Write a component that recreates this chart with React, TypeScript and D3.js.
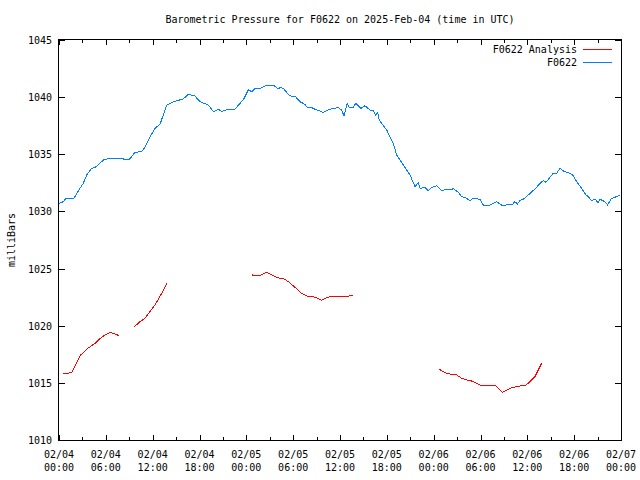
import React from "react";
import * as d3 from "d3";

// ---- data (hours since 2025-02-04 00:00 UTC) ----
const stationHours = [
  0, 0.55, 0.9, 1.83, 2.05, 2.47, 3.11, 3.55, 4.19, 4.61, 5.03, 5.68, 6.32, 7.81, 8.24, 8.88, 9.31, 9.74,
  10.59, 11.02, 11.44, 12.3, 12.94, 13.8, 14.64, 15.92, 16.56, 17.42, 18.06, 19.13, 19.77, 20.41, 20.84,
  21.69, 22.55, 23.19, 23.61, 24.25, 24.69, 25.11, 25.75, 26.61, 27.45, 28.09, 28.31, 28.73, 29.37, 29.81,
  30.23, 30.87, 31.51, 31.81, 32.37, 33.01, 33.86, 34.5, 35.14, 35.78, 36.22, 36.51, 36.93, 37.15, 37.7,
  38.01, 38.69, 39.2, 39.84, 40.26, 40.57, 40.83, 41.03, 41.98, 42.83, 43.26, 44.11, 44.97, 45.61, 46.03,
  46.25, 46.89, 47.31, 47.75, 48.39, 49.03, 49.58, 50.31, 50.51, 51.15, 51.59, 52.23, 52.65, 53.07, 53.93,
  54.35, 55.21, 56.07, 56.71, 57.14, 57.43, 58.0, 58.42, 58.72, 59.06, 59.7, 60.56, 60.98, 61.62, 62.05,
  62.39, 63.32, 63.76, 64.18, 64.53, 65.24, 65.81, 66.32, 66.96, 67.51, 67.81, 68.24, 68.66, 69.09, 69.31,
  69.95, 70.29, 70.71, 71.23, 71.87,
];
const stationValues = [
  1030.71, 1030.85, 1031.15, 1031.09, 1031.29, 1031.79, 1032.46, 1033.19, 1033.77, 1033.86, 1034.06, 1034.5,
  1034.61, 1034.67, 1034.59, 1034.5, 1034.79, 1035.17, 1035.23, 1035.61, 1036.25, 1037.27, 1037.62, 1039.31,
  1039.6, 1039.84, 1040.25, 1040.1, 1039.6, 1039.31, 1038.73, 1038.94, 1038.73, 1038.96, 1038.96, 1039.46,
  1039.75, 1040.63, 1040.48, 1040.77, 1040.77, 1041.06, 1041.06, 1040.71, 1040.83, 1040.77, 1040.25, 1040.04,
  1040.1, 1039.6, 1039.37, 1039.08, 1039.08, 1038.88, 1038.67, 1038.88, 1039.02, 1039.08, 1038.88, 1038.35,
  1039.46, 1039.11, 1039.11, 1039.46, 1039.02, 1039.25, 1038.88, 1038.81, 1038.44, 1038.67, 1038.0, 1037.13,
  1035.96, 1034.94, 1034.06, 1033.19, 1032.16, 1032.51, 1032.02, 1032.11, 1031.79, 1032.11, 1032.25, 1031.79,
  1031.94, 1031.88, 1032.02, 1031.67, 1031.29, 1031.15, 1030.94, 1031.15, 1031.06, 1030.56, 1030.56, 1030.85,
  1030.56, 1030.47, 1030.65, 1030.56, 1030.85, 1030.65, 1030.94, 1031.15, 1031.73, 1031.94, 1032.46, 1032.69,
  1032.55, 1033.34, 1033.34, 1033.77, 1033.56, 1033.39, 1033.19, 1032.6, 1032.02, 1031.44, 1031.29, 1030.94,
  1031.09, 1030.76, 1031.06, 1030.85, 1030.56, 1031.09, 1031.24, 1031.44,
];

// analysis series; null marks a gap between segments
const analysisHours = [
  0.55, 1.06, 1.63, 2.18, 2.78, 3.75, 4.61, 5.16, 5.89, 6.62, 7.17, 7.72, 8.7,
  9.65, 10.38, 11.02, 11.66, 12.43, 13.16, 13.8, 19.0,
  24.76, 25.33, 25.75, 26.61, 27.03, 27.67, 28.31, 28.73, 29.37, 30.23, 31.09, 31.73, 32.58, 33.09, 33.65,
  34.29, 34.72, 37.06, 37.28, 37.7, 43.0,
  48.72, 49.23, 49.67, 50.31, 50.95, 51.59, 52.23, 52.87, 53.51, 54.15, 55.21, 55.85, 56.49, 56.84, 57.35,
  57.99, 58.63, 59.27, 59.83, 60.34, 60.98, 61.4, 61.84,
];
const analysisValues: (number | null)[] = [
  1015.83, 1015.83, 1015.92, 1016.65, 1017.44, 1018.05, 1018.46, 1018.81, 1019.19, 1019.42, 1019.27, 1019.13, null,
  1019.92, 1020.35, 1020.65, 1021.23, 1021.96, 1022.83, 1023.71, null,
  1024.44, 1024.35, 1024.38, 1024.67, 1024.52, 1024.29, 1024.15, 1024.15, 1023.86, 1023.36, 1022.83, 1022.6,
  1022.54, 1022.4, 1022.22, 1022.45, 1022.54, 1022.54, 1022.66, 1022.66, null,
  1016.19, 1015.98, 1015.83, 1015.74, 1015.69, 1015.4, 1015.25, 1015.16, 1014.96, 1014.75, 1014.75, 1014.81,
  1014.37, 1014.17, 1014.37, 1014.58, 1014.67, 1014.75, 1014.81, 1015.1, 1015.54, 1016.13, 1016.71,
];

const yTicks = [1010, 1015, 1020, 1025, 1030, 1035, 1040, 1045];
const seriesNames = ["F0622 Analysis", "F0622"];
const seriesColors = ["#ff0000", "#0080ff"];
const titleText = "Barometric Pressure for F0622 on 2025-Feb-04 (time in UTC)";
const yLabel = "milliBars";

const START = Date.UTC(2025, 1, 4, 0, 0);
const END = Date.UTC(2025, 1, 7, 0, 0);
const toDate = (h: number) => new Date(START + h * 3600e3);

export default function App() {
  const W = 640, H = 480;
  const L = 59, R = 621, T = 40, B = 440;
  const font = "'DejaVu Sans Mono', monospace";
  const fs = 10;

  const x = d3.scaleUtc().domain([new Date(START), new Date(END)]).range([L, R]);
  const y = d3.scaleLinear().domain([1010, 1045]).range([B, T]);

  const majorX = x.ticks(d3.utcHour.every(6)!);
  const minorX = x.ticks(d3.utcHour.every(3)!).filter((d) => d.getUTCHours() % 6 !== 0);
  const fmtDate = d3.utcFormat("%m/%d");
  const fmtTime = d3.utcFormat("%H:%M");

  const stationData = stationHours.map((h, i) => ({ t: toDate(h), v: stationValues[i] as number | null }));
  const analysisData = analysisHours.map((h, i) => ({ t: toDate(h), v: analysisValues[i] }));

  const line = d3
    .line<{ t: Date; v: number | null }>()
    .defined((d) => d.v != null)
    .x((d) => x(d.t))
    .y((d) => y(d.v as number));

  const px = (v: number) => Math.round(v) + 0.5;

  return (
    <svg
      width={W}
      height={H}
      style={{ position: "absolute", left: 0, top: 0, background: "#fff" }}
      fontFamily={font}
      fontSize={fs}
    >
      <rect x={0} y={0} width={W} height={H} fill="#fff" />
      <text x={(L + R) / 2} y={23} textAnchor="middle" fill="#000">
        {titleText}
      </text>
      <text
        transform={`translate(15,${(T + B) / 2}) rotate(-90)`}
        textAnchor="middle"
        fill="#000"
      >
        {yLabel}
      </text>

      {/* y ticks */}
      {yTicks.map((t) => (
        <g key={t}>
          <line x1={L} x2={L + 6} y1={px(y(t))} y2={px(y(t))} stroke="#000" shapeRendering="crispEdges" />
          <line x1={R - 6} x2={R} y1={px(y(t))} y2={px(y(t))} stroke="#000" shapeRendering="crispEdges" />
          <text x={52} y={y(t) + 4} textAnchor="end" fill="#000">
            {t}
          </text>
        </g>
      ))}

      {/* x ticks */}
      {majorX.map((d, i) => (
        <g key={"M" + i}>
          <line x1={px(x(d))} x2={px(x(d))} y1={B} y2={B - 5} stroke="#000" shapeRendering="crispEdges" />
          <line x1={px(x(d))} x2={px(x(d))} y1={T} y2={T + 5} stroke="#000" shapeRendering="crispEdges" />
          <text x={x(d)} y={458} textAnchor="middle" fill="#000">
            {fmtDate(d)}
          </text>
          <text x={x(d)} y={471} textAnchor="middle" fill="#000">
            {fmtTime(d)}
          </text>
        </g>
      ))}
      {minorX.map((d, i) => (
        <g key={"m" + i}>
          <line x1={px(x(d))} x2={px(x(d))} y1={B} y2={B - 3} stroke="#000" shapeRendering="crispEdges" />
          <line x1={px(x(d))} x2={px(x(d))} y1={T} y2={T + 3} stroke="#000" shapeRendering="crispEdges" />
        </g>
      ))}

      {/* series */}
      <path d={line(analysisData) || ""} fill="none" stroke={seriesColors[0]} strokeWidth={1} shapeRendering="crispEdges" />
      <path d={line(stationData) || ""} fill="none" stroke={seriesColors[1]} strokeWidth={1} shapeRendering="crispEdges" />

      {/* legend */}
      {seriesNames.map((n, i) => (
        <g key={n}>
          <text x={577} y={53 + i * 13} textAnchor="end" fill="#000">
            {n}
          </text>
          <line x1={583} x2={612} y1={49.5 + i * 13} y2={49.5 + i * 13} stroke={seriesColors[i]} shapeRendering="crispEdges" />
        </g>
      ))}

      {/* border */}
      <rect x={L - 0.5} y={T - 0.5} width={R - L + 1} height={B - T + 1} fill="none" stroke="#000" shapeRendering="crispEdges" />
    </svg>
  );
}
